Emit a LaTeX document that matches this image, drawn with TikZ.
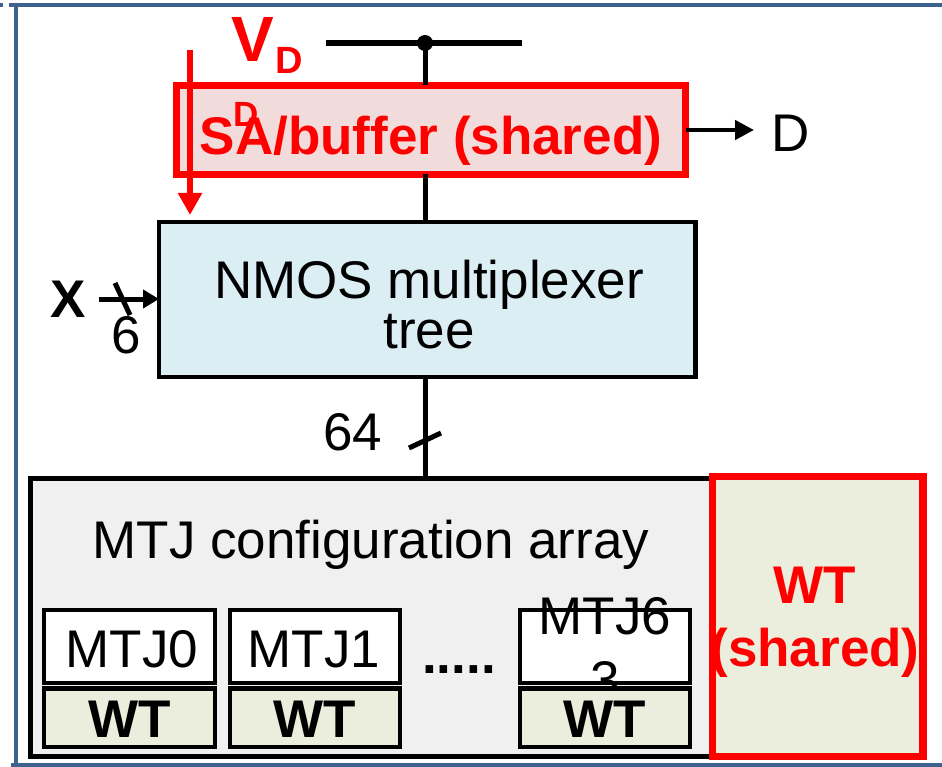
\documentclass[tikz,border=0pt]{standalone}
\usepackage{fontspec}
\setmainfont{Liberation Sans}
\usetikzlibrary{arrows.meta}

\definecolor{framec}{HTML}{3E6290}
\definecolor{redc}{HTML}{FF0000}
\definecolor{safill}{HTML}{F2DCDB}
\definecolor{muxfill}{HTML}{DBEEF3}
\definecolor{arrfill}{HTML}{F0F0F0}
\definecolor{wtfill}{HTML}{EBEEDD}

\tikzset{
  box/.style={draw=black, line width=4.5pt, rectangle, inner sep=0pt, outer sep=0pt},
  redbox/.style={draw=redc, line width=7.5pt, rectangle, inner sep=0pt, outer sep=0pt},
  wire/.style={draw=black, line width=5pt},
  txt/.style={inner sep=0pt, font=\fontsize{53}{50}\selectfont},
  btxt/.style={inner sep=0pt, font=\fontsize{53}{50}\selectfont\bfseries},
  frameline/.style={draw=framec, line width=4.6pt}
}

\begin{document}
\begin{tikzpicture}[x=1pt,y=-1pt]
\useasboundingbox (0,0) rectangle (942,767);

% outer frame
\fill[framec] (0,3) rectangle (3.3,7.3);
\draw[frameline] (9,5) -- (942,5);
\draw[frameline] (15.8,3) -- (15.8,763);
\draw[frameline, line width=4pt] (11,765) -- (942,765);

% MTJ configuration array
\node[box, fill=arrfill, line width=5pt, minimum width=684.5pt, minimum height=278.5pt] (arr) at (372.75,617.25) {};
\node[txt, anchor=base] (arrtxt) at (371,558) {MTJ configuration array};

% cells: MTJ part and write-transistor part
\node[box, fill=white, minimum width=171pt, minimum height=73pt] (m0) at (129.5,646.5) {};
\node[box, fill=white, minimum width=170pt, minimum height=73pt] (m1) at (315,646.5) {};
\node[box, fill=white, minimum width=170pt, minimum height=73pt] (m63) at (605,646.5) {};
\node[txt, anchor=base] (m0txt) at (132,667) {MTJ0};
\node[txt, anchor=base] (m1txt) at (314,667) {MTJ1};
\node[txt, align=center, font=\fontsize{53}{64}\selectfont] (m63txt) at (605,648.4) {MTJ6\\3};
\node[box, fill=wtfill, minimum width=171pt, minimum height=58.5pt] (w0) at (129.5,717.75) {};
\node[box, fill=wtfill, minimum width=170pt, minimum height=58.5pt] (w1) at (315,717.75) {};
\node[box, fill=wtfill, minimum width=170pt, minimum height=58.5pt] (w63) at (605,717.75) {};
\node[btxt, anchor=base] (w0txt) at (129.5,737) {WT};
\node[btxt, anchor=base] (w1txt) at (315,737) {WT};
\node[btxt, anchor=base] (w63txt) at (605,737) {WT};
\node[btxt, anchor=base] (dots) at (459,673) {.....};

% shared write transistor
\node[redbox, fill=wtfill, minimum width=210.5pt, minimum height=280pt] (wts) at (817.75,616.5) {};
\node[btxt, text=redc, align=center, font=\fontsize{53}{63}\selectfont\bfseries] (wtstxt) at (815,622.4) {WT\\(shared)};

% NMOS multiplexer tree
\node[box, fill=muxfill, minimum width=536.5pt, minimum height=155pt] (mux) at (427.25,299.5) {};
\node[txt, align=center] (muxtxt) at (429,304.4) {NMOS multiplexer\\tree};

% sense amplifier / buffer
\node[redbox, line width=7pt, fill=safill, minimum width=509pt, minimum height=89pt] (sa) at (431,130) {};
\node[btxt, text=redc, anchor=base, font=\fontsize{53}{53}\selectfont\bfseries] (satxt) at (431,155) {SA/buffer (shared)};
\node[inner sep=0pt, text=redc, anchor=base, font=\fontsize{35}{35}\selectfont\bfseries] (dsub2) at (246,127) {D};

% supply rail
\coordinate (railL) at (326,43);
\coordinate (railR) at (522,43);
\draw[wire, line width=5.5pt] (railL) -- (railR);
\node[circle, fill=black, inner sep=0pt, minimum size=16pt] (tap) at (425,43) {};
\draw[wire] (tap.center) -- (tap |- sa.north);
\draw[wire] (sa.south -| tap) -- (mux.north -| tap);
\draw[wire] (mux.south -| tap) -- (arr.north -| tap);
\node[inner sep=0pt, text=redc, anchor=base, font=\fontsize{64}{64}\selectfont\bfseries] (vdv) at (253,62) {V};
\node[inner sep=0pt, text=redc, anchor=base, font=\fontsize{38}{38}\selectfont\bfseries] (vdd) at (289.5,74) {D};

% output D
\coordinate (dtip) at (754,130);
\draw[wire, line width=4.5pt, -{Triangle[length=19pt,width=19pt]}] (sa.east) -- (dtip);
\node[txt, anchor=base] (dout) at (791,152) {D};

% select input X (6 bits)
\node[btxt, anchor=base] (xlbl) at (68,317) {X};
\coordinate (xin) at (99,299);
\draw[wire, -{Triangle[length=16pt,width=18pt]}] (xin) -- (xin -| mux.west);
\draw[wire] (115,283) -- (130,315);
\node[txt, anchor=base] (six) at (126,353) {6};

% 64-bit bus mark
\draw[wire] (409,448) -- (441,433);
\node[txt, anchor=base] (sixfour) at (353,450) {64};

% red drive arrow
\coordinate (rtop) at (190,50);
\coordinate (rbot) at (190,215);
\draw[draw=redc, line width=6pt, -{Triangle[length=22pt,width=23pt]}] (rtop) -- (rbot);
\end{tikzpicture}
\end{document}
